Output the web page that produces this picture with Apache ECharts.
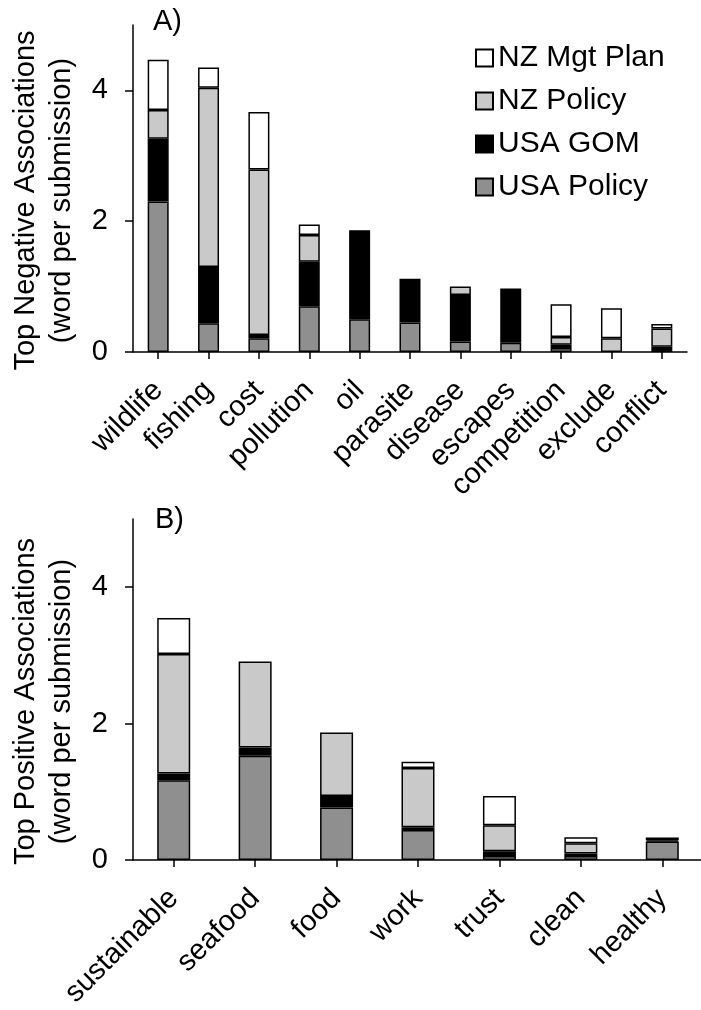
<!DOCTYPE html>
<html>
<head>
<meta charset="utf-8">
<script src="https://cdn.jsdelivr.net/npm/echarts@6/dist/echarts.min.js"></script>
<style>
html,body{margin:0;padding:0;background:#fff;}
#chart{width:701px;height:1010px;}
</style>
</head>
<body>
<div id="chart"></div>
<script>
// Panel A: top negative associations
const negCategories = ['wildlife','fishing','cost','pollution','oil','parasite','disease','escapes','competition','exclude','conflict'];
const negUsaPolicy = [2.30, 0.44, 0.21, 0.70, 0.50, 0.45, 0.16, 0.14, 0.06, 0, 0.03];
const negUsaGom    = [0.96, 0.86, 0.05, 0.68, 1.36, 0.67, 0.71, 0.83, 0.05, 0, 0.05];
const negNzPolicy  = [0.44, 2.74, 2.53, 0.41, 0, 0, 0.13, 0, 0.12, 0.21, 0.28];
const negNzMgt     = [0.77, 0.31, 0.88, 0.16, 0, 0, 0, 0, 0.50, 0.46, 0.07];

// Panel B: top positive associations
const posCategories = ['sustainable','seafood','food','work','trust','clean','healthy'];
const posUsaPolicy = [1.17, 1.53, 0.77, 0.44, 0.06, 0.06, 0.27];
const posUsaGom    = [0.10, 0.12, 0.17, 0.04, 0.07, 0.035, 0.02];
const posNzPolicy  = [1.75, 1.26, 0.93, 0.87, 0.38, 0.15, 0];
const posNzMgt     = [0.53, 0, 0, 0.09, 0.43, 0.09, 0.04];

const yTicks = [0, 2, 4];
const seriesNames = ['NZ Mgt Plan','NZ Policy','USA GOM','USA Policy'];
const seriesColors = {'USA Policy':'#8f8f8f','USA GOM':'#000000','NZ Policy':'#c9c9c9','NZ Mgt Plan':'#ffffff'};

const FONT = 'Liberation Sans, Arial, sans-serif';
const fs = 29;
const clean = a => a.map(v => v === 0 ? '-' : v);

function yAxis(gridIndex, name) {
  return {
    type: 'value', gridIndex: gridIndex, min: 0, max: 5, interval: 1,
    name: name, nameLocation: 'middle', nameRotate: 90, nameGap: 53,
    nameTextStyle: {fontFamily: FONT, fontSize: fs, color: '#000', lineHeight: 36, padding: [0, 24, 0, 0]},
    axisLine: {show: true, lineStyle: {color: '#000', width: 1.5}},
    axisTick: {show: true, length: 8, lineStyle: {color: '#000', width: 1.5}, customValues: yTicks},
    axisLabel: {fontFamily: FONT, fontSize: fs, color: '#000', margin: 25, customValues: yTicks},
    splitLine: {show: false}
  };
}
function xAxis(gridIndex, cats, margin) {
  return {
    type: 'category', gridIndex: gridIndex, data: cats,
    axisLine: {show: true, lineStyle: {color: '#000', width: 1.5}},
    axisTick: {show: true, alignWithLabel: true, length: 7, lineStyle: {color: '#000', width: 1.5}},
    axisLabel: {fontFamily: FONT, fontSize: fs, color: '#000', rotate: 45, margin: margin, interval: 0}
  };
}
function barSeries(name, data, idx, stack, width) {
  return {
    name: name, type: 'bar', stack: stack, xAxisIndex: idx, yAxisIndex: idx,
    barWidth: width, data: clean(data),
    itemStyle: {color: seriesColors[name], borderColor: '#000', borderWidth: 1.5},
    emphasis: {disabled: true}
  };
}

const chart = echarts.init(document.getElementById('chart'), null, {renderer: 'canvas'});
chart.setOption({
  animation: false,
  backgroundColor: '#fff',
  title: [
    {text: 'A)', left: 148, top: 2, textStyle: {fontFamily: FONT, fontSize: 29, fontWeight: 'normal', color: '#000'}},
    {text: 'B)', left: 150, top: 500, textStyle: {fontFamily: FONT, fontSize: 29, fontWeight: 'normal', color: '#000'}}
  ],
  legend: {
    data: seriesNames, orient: 'vertical', left: 470, top: 38,
    itemWidth: 17, itemHeight: 17, itemGap: 13, icon: 'rect',
    textStyle: {fontFamily: FONT, fontSize: 30, color: '#000', lineHeight: 30},
    selectedMode: false
  },
  grid: [
    {left: 133, top: 25, width: 554, height: 327, outerBoundsMode: 'none', containLabel: false},
    {left: 133, top: 519, width: 570, height: 341, outerBoundsMode: 'none', containLabel: false}
  ],
  xAxis: [xAxis(0, negCategories, 34), xAxis(1, posCategories, 34)],
  yAxis: [
    yAxis(0, 'Top Negative Associations\n(word per submission)'),
    yAxis(1, 'Top Positive Associations\n(word per submission)')
  ],
  series: [
    barSeries('USA Policy', negUsaPolicy, 0, 'neg', 21),
    barSeries('USA GOM', negUsaGom, 0, 'neg', 21),
    barSeries('NZ Policy', negNzPolicy, 0, 'neg', 21),
    barSeries('NZ Mgt Plan', negNzMgt, 0, 'neg', 21),
    barSeries('USA Policy', posUsaPolicy, 1, 'pos', 33),
    barSeries('USA GOM', posUsaGom, 1, 'pos', 33),
    barSeries('NZ Policy', posNzPolicy, 1, 'pos', 33),
    barSeries('NZ Mgt Plan', posNzMgt, 1, 'pos', 33)
  ]
});
</script>
</body>
</html>
